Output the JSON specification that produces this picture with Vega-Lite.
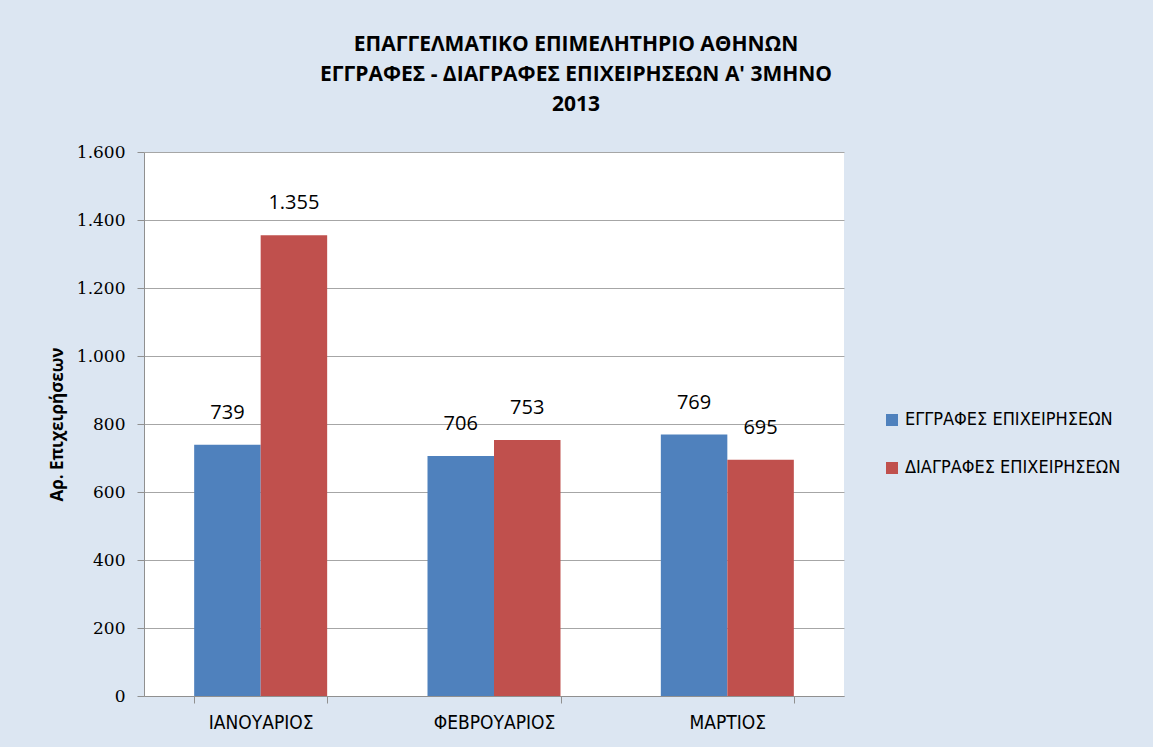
{
  "$schema": "https://vega.github.io/schema/vega-lite/v6.json",
  "autosize": {"type": "none"},
  "width": 700,
  "height": 544,
  "padding": {"left": 144, "top": 152, "right": 309, "bottom": 51},
  "background": "#dce6f2",
  "config": {
    "locale": {"number": {"decimal": ",", "thousands": ".", "grouping": [3], "currency": ["", "€"]}},
    "view": {"fill": "white", "stroke": null}
  },
  "title": {
    "text": ["ΕΠΑΓΓΕΛΜΑΤΙΚΟ ΕΠΙΜΕΛΗΤΗΡΙΟ ΑΘΗΝΩΝ", "ΕΓΓΡΑΦΕΣ - ΔΙΑΓΡΑΦΕΣ ΕΠΙΧΕΙΡΗΣΕΩΝ Α' 3ΜΗΝΟ", "2013"],
    "font": "Open Sans",
    "fontSize": 21,
    "fontWeight": "bold",
    "color": "black",
    "lineHeight": 30,
    "anchor": "middle",
    "dx": 82,
    "offset": 28
  },
  "data": {
    "values": [
      {"month": "ΙΑΝΟΥΑΡΙΟΣ", "series": "ΕΓΓΡΑΦΕΣ ΕΠΙΧΕΙΡΗΣΕΩΝ", "value": 739},
      {"month": "ΙΑΝΟΥΑΡΙΟΣ", "series": "ΔΙΑΓΡΑΦΕΣ ΕΠΙΧΕΙΡΗΣΕΩΝ", "value": 1355},
      {"month": "ΦΕΒΡΟΥΑΡΙΟΣ", "series": "ΕΓΓΡΑΦΕΣ ΕΠΙΧΕΙΡΗΣΕΩΝ", "value": 706},
      {"month": "ΦΕΒΡΟΥΑΡΙΟΣ", "series": "ΔΙΑΓΡΑΦΕΣ ΕΠΙΧΕΙΡΗΣΕΩΝ", "value": 753},
      {"month": "ΜΑΡΤΙΟΣ", "series": "ΕΓΓΡΑΦΕΣ ΕΠΙΧΕΙΡΗΣΕΩΝ", "value": 769},
      {"month": "ΜΑΡΤΙΟΣ", "series": "ΔΙΑΓΡΑΦΕΣ ΕΠΙΧΕΙΡΗΣΕΩΝ", "value": 695}
    ]
  },
  "encoding": {
    "x": {
      "field": "month", "type": "nominal",
      "sort": ["ΙΑΝΟΥΑΡΙΟΣ", "ΦΕΒΡΟΥΑΡΙΟΣ", "ΜΑΡΤΙΟΣ"],
      "scale": {"paddingInner": 0.43, "paddingOuter": 0.215},
      "axis": {
        "title": null, "labelAngle": 0,
        "labelFont": "Liberation Sans Narrow, DejaVu Sans Condensed",
        "labelFontSize": 19, "labelColor": "black", "labelPadding": 10,
        "tickBand": "extent", "tickSize": 7, "tickColor": "#909090",
        "domainColor": "#909090", "grid": false
      }
    },
    "xOffset": {
      "field": "series", "type": "nominal",
      "sort": ["ΕΓΓΡΑΦΕΣ ΕΠΙΧΕΙΡΗΣΕΩΝ", "ΔΙΑΓΡΑΦΕΣ ΕΠΙΧΕΙΡΗΣΕΩΝ"],
      "scale": {"paddingInner": 0, "paddingOuter": 0}
    },
    "y": {
      "field": "value", "type": "quantitative",
      "scale": {"domain": [0, 1600], "nice": false},
      "axis": {
        "title": "Αρ. Επιχειρήσεων",
        "titleFont": "Open Sans", "titleFontSize": 17, "titleFontWeight": "bold",
        "titleColor": "black", "titleX": -87, "titleY": 272, "titleAngle": 270,
        "titleAlign": "center", "titleBaseline": "middle",
        "values": [0, 200, 400, 600, 800, 1000, 1200, 1400, 1600],
        "format": ",d",
        "labelFont": "DejaVu Serif", "labelFontSize": 17, "labelColor": "black",
        "labelFontWeight": 500,
        "labelPadding": 12, "tickSize": 7, "tickColor": "#909090",
        "domainColor": "#909090", "gridColor": "#a6a6a6"
      }
    }
  },
  "layer": [
    {
      "mark": {"type": "bar"},
      "encoding": {
        "color": {
          "field": "series", "type": "nominal",
          "sort": ["ΕΓΓΡΑΦΕΣ ΕΠΙΧΕΙΡΗΣΕΩΝ", "ΔΙΑΓΡΑΦΕΣ ΕΠΙΧΕΙΡΗΣΕΩΝ"],
          "scale": {"range": ["#4f81bd", "#c0504d"]},
          "legend": {
            "title": null, "orient": "none", "legendX": 739, "legendY": 259,
            "symbolType": "square", "symbolSize": 144, "symbolStrokeWidth": 0,
            "labelFont": "Liberation Sans Narrow, DejaVu Sans Condensed",
            "labelFontSize": 18, "labelColor": "black", "labelOffset": 4,
            "labelLimit": 0,
            "rowPadding": 30, "padding": 0
          }
        }
      }
    },
    {
      "mark": {"type": "text", "baseline": "middle", "dy": -32, "font": "Open Sans", "fontSize": 20, "color": "black"},
      "encoding": {
        "text": {"field": "value", "type": "quantitative", "format": ",d"}
      }
    }
  ]
}
